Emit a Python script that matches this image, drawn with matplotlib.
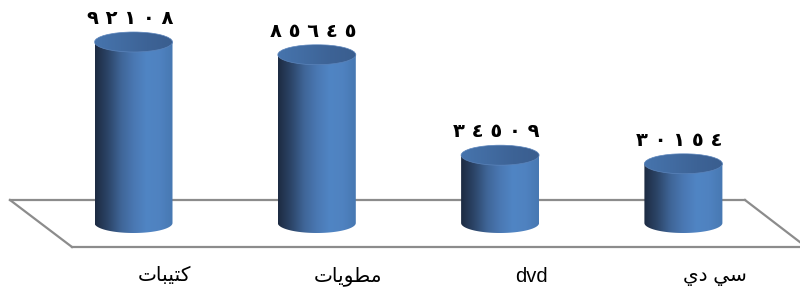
import matplotlib
matplotlib.use("Agg")
import matplotlib.pyplot as plt
import numpy as np
from matplotlib.patches import Ellipse, Polygon
from matplotlib.colors import LinearSegmentedColormap

# ---- data ----
categories = ["كتيبات", "مطويات", "dvd", "سي دي"]
# pre-shaped (visual order, presentation forms) versions for rendering
category_display = ["\uFE95\uFE8E\uFE92\uFEF4\uFE98\uFEDB",
                    "\uFE95\uFE8E\uFEF3\uFEEE\uFEC4\uFEE3",
                    "dvd",
                    "\uFEF1\uFEA9 \uFEF2\uFEB3"]
values = [92108, 85645, 34509, 30154]

arabic_digits = str.maketrans("0123456789", "٠١٢٣٤٥٦٧٨٩")
def arabic_label(v):
    return " ".join(str(v).translate(arabic_digits))

# ---- layout (pixel based mapping) ----
W, H = 800, 302
fig = plt.figure(figsize=(W / 100, H / 100), dpi=100)
ax = fig.add_axes([0, 0, 1, 1])
ax.set_axis_off()

x0_px, dx_px = 133.5, 183.3         # first bar centre, spacing
base_px = 223                       # y pixel of value 0 (from top)
px_per_unit = 181 / 92108
xlim = (-x0_px / dx_px, (W - x0_px) / dx_px)
ylim = (-(H - base_px) / px_per_unit, base_px / px_per_unit)
ax.set_xlim(*xlim)
ax.set_ylim(*ylim)

def px2x(px):
    return xlim[0] + px / W * (xlim[1] - xlim[0])
def py2y(py):
    return ylim[1] - py / H * (ylim[1] - ylim[0])

# floor
floor_color = "#8c8c8c"
back_y, front_y = py2y(200), py2y(247)
ax.plot([px2x(10), px2x(745)], [back_y, back_y], color=floor_color, lw=1.6, zorder=1)
ax.plot([px2x(10), px2x(72)], [back_y, front_y], color=floor_color, lw=1.6, zorder=1)
ax.plot([px2x(72), px2x(805)], [front_y, front_y], color=floor_color, lw=1.6, zorder=1)
ax.plot([px2x(745), px2x(805)], [back_y, py2y(246)], color=floor_color, lw=1.6, zorder=1)

body_cmap = LinearSegmentedColormap.from_list(
    "body", ["#1d2b42", "#2c4568", "#3f6597", "#4a78b3", "#5085c4", "#4f82c0", "#4778b2"])
top_cmap = LinearSegmentedColormap.from_list(
    "top", ["#4674ad", "#426ca2", "#3d6396", "#3a5e8f"])

bar_w = 78 / dx_px
ell_h = 20 / px_per_unit

grad = np.linspace(0, 1, 256).reshape(1, -1)
for i, v in enumerate(values):
    xl, xr = i - bar_w / 2, i + bar_w / 2
    t = np.linspace(np.pi, 2 * np.pi, 60)
    bottom = np.column_stack([i + bar_w / 2 * np.cos(t), ell_h / 2 * np.sin(t)])
    verts = np.vstack([[[xl, v]], bottom, [[xr, v]], [[xl, v]]])
    body = Polygon(verts, closed=True, facecolor="none", edgecolor="none")
    ax.add_patch(body)
    im = ax.imshow(grad, cmap=body_cmap, aspect="auto",
                   extent=[xl, xr, -ell_h / 2, v], zorder=2, interpolation="bicubic")
    im.set_clip_path(body)
    top = Ellipse((i, v), bar_w, ell_h, facecolor="none", edgecolor="none")
    ax.add_patch(top)
    im2 = ax.imshow(grad, cmap=top_cmap, aspect="auto",
                    extent=[xl, xr, v - ell_h / 2, v + ell_h / 2], zorder=3, interpolation="bicubic")
    im2.set_clip_path(top)
    ax.add_patch(Ellipse((i, v), bar_w, ell_h, facecolor="none",
                         edgecolor="#5b84bb", lw=0.5, zorder=4))
    ax.text(i - 0.02, v + ell_h / 2 + 4 / px_per_unit, arabic_label(v),
            ha="center", va="bottom", fontsize=14, fontweight="bold",
            family=["DejaVu Sans"], color="black", zorder=5)
    ax.text(i + 0.17, py2y(276), category_display[i], ha="center", va="center",
            fontsize=14.5, family=["Liberation Sans", "DejaVu Sans"], color="black", zorder=5)

fig.savefig("out.png", dpi=100)
